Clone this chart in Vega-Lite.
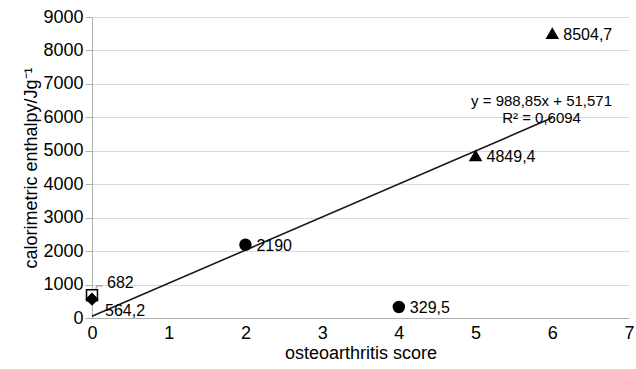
{
  "$schema": "https://vega.github.io/schema/vega-lite/v6.json",
  "width": 537,
  "height": 301,
  "autosize": {"type": "none"},
  "padding": {"left": 92, "top": 17, "right": 7, "bottom": 51},
  "config": {
    "font": "Liberation Sans",
    "view": {"stroke": null},
    "axis": {
      "labelFont": "Liberation Sans", "titleFont": "Liberation Sans",
      "labelFontSize": 18, "titleFontSize": 18, "titleFontWeight": "normal",
      "labelColor": "#000", "titleColor": "#000",
      "domainColor": "#b0b0b0", "tickColor": "#b0b0b0", "gridColor": "#d9d9d9",
      "labelOverlap": false, "labelFlush": false
    }
  },
  "datasets": {
    "points": [
      {"score": 0, "enthalpy": 682, "group": "a", "label": "682"},
      {"score": 0, "enthalpy": 564.2, "group": "b", "label": "564,2"},
      {"score": 2, "enthalpy": 2190, "group": "c", "label": "2190"},
      {"score": 4, "enthalpy": 329.5, "group": "c", "label": "329,5"},
      {"score": 5, "enthalpy": 4849.4, "group": "d", "label": "4849,4"},
      {"score": 6, "enthalpy": 8504.7, "group": "d", "label": "8504,7"}
    ],
    "fit": [
      {"score": 0, "enthalpy": 51.571},
      {"score": 6, "enthalpy": 5984.671}
    ],
    "leader": [
      {"score": 0.04, "enthalpy": 760, "o": 1},
      {"score": 0.06, "enthalpy": 960, "o": 2},
      {"score": 0.14, "enthalpy": 960, "o": 3}
    ],
    "eq": [
      {"score": 5.86, "enthalpy": 6500, "t": "y = 988,85x + 51,571"},
      {"score": 5.86, "enthalpy": 5990, "t": "R² = 0,6094"}
    ]
  },
  "encoding": {
    "x": {"field": "score", "type": "quantitative", "scale": {"domain": [0, 7], "nice": false, "zero": false},
      "axis": {"title": "osteoarthritis score", "values": [0,1,2,3,4,5,6,7], "format": "d", "grid": false, "tickSize": 0, "labelPadding": 6, "titlePadding": 2}},
    "y": {"field": "enthalpy", "type": "quantitative", "scale": {"domain": [0, 9000], "nice": false},
      "axis": {"title": "calorimetric enthalpy/Jg⁻¹", "values": [0,1000,2000,3000,4000,5000,6000,7000,8000,9000], "grid": true, "tickSize": 7, "labelPadding": 2, "titlePadding": 2, "format": "d"}}
  },
  "layer": [
    {
      "data": {"name": "fit"},
      "mark": {"type": "line", "color": "#1a1a1a", "strokeWidth": 1.6}
    },
    {
      "data": {"name": "leader"},
      "mark": {"type": "line", "color": "#a0a0a0", "strokeWidth": 1.2},
      "encoding": {"order": {"field": "o"}}
    },
    {
      "data": {"name": "points"},
      "mark": {"type": "point", "filled": true, "opacity": 1, "size": 120, "stroke": "#000", "strokeWidth": 1.5},
      "encoding": {
        "shape": {"field": "group", "type": "nominal", "legend": null,
          "scale": {"domain": ["a","b","c","d"], "range": ["square", "diamond", "circle", "triangle-up"]}},
        "fill": {"field": "group", "type": "nominal", "legend": null,
          "scale": {"domain": ["a","b","c","d"], "range": ["#ffffff", "#000000", "#000000", "#000000"]}}
      }
    },
    {
      "data": {"name": "points"},
      "transform": [{"filter": "datum.group != 'a' && datum.group != 'b'"}],
      "mark": {"type": "text", "align": "left", "dx": 11, "dy": 1, "fontSize": 16, "font": "Liberation Sans", "color": "#000"},
      "encoding": {"text": {"field": "label"}}
    },
    {
      "data": {"name": "points"},
      "transform": [{"filter": "datum.group == 'a'"}],
      "mark": {"type": "text", "align": "left", "dx": 15, "dy": -12, "fontSize": 16, "font": "Liberation Sans", "color": "#000"},
      "encoding": {"text": {"field": "label"}}
    },
    {
      "data": {"name": "points"},
      "transform": [{"filter": "datum.group == 'b'"}],
      "mark": {"type": "text", "align": "left", "dx": 13, "dy": 12, "fontSize": 16, "font": "Liberation Sans", "color": "#000"},
      "encoding": {"text": {"field": "label"}}
    },
    {
      "data": {"name": "eq"},
      "mark": {"type": "text", "align": "center", "fontSize": 15, "font": "Liberation Sans", "color": "#000"},
      "encoding": {"text": {"field": "t"}}
    }
  ]
}
